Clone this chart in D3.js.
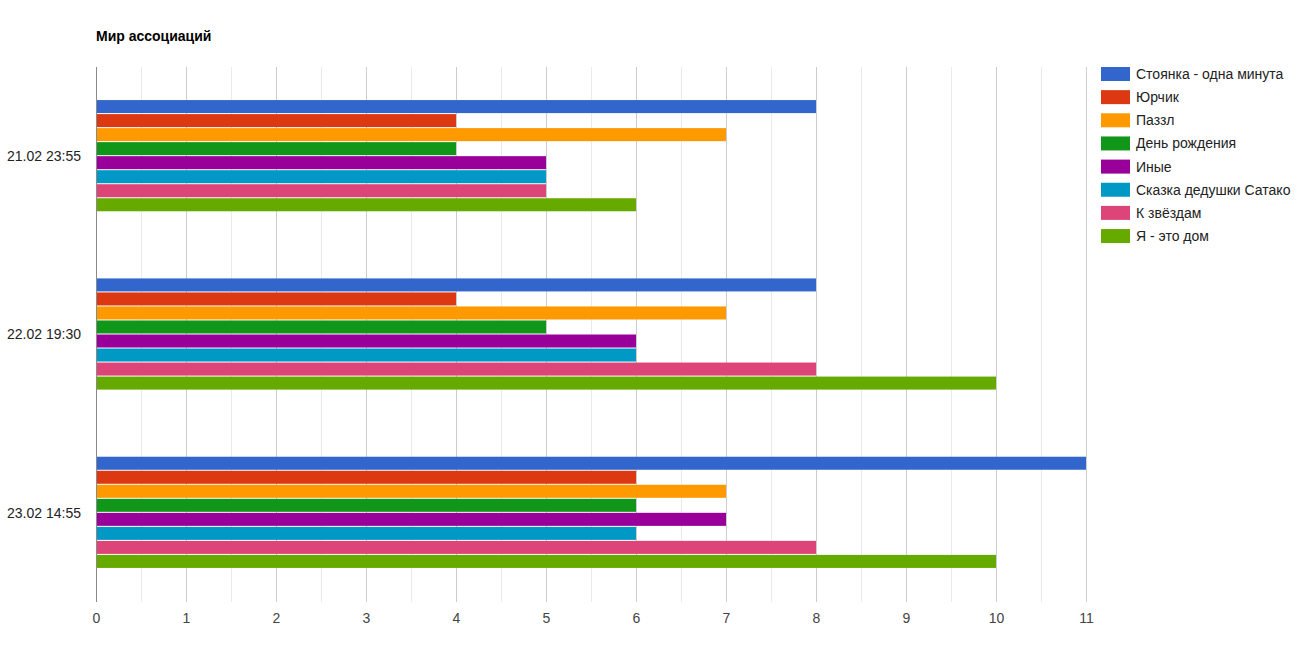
<!DOCTYPE html>
<html>
<head>
<meta charset="utf-8">
<script src="https://cdn.jsdelivr.net/npm/d3@7"></script>
<style>
  body { margin: 0; background: #fff; }
  text { font-family: "Liberation Sans", Arial, sans-serif; }
</style>
</head>
<body>
<div class="canvas"></div>
<script>
const categories = ["21.02 23:55", "22.02 19:30", "23.02 14:55"];
const seriesNames = [
  "Стоянка - одна минута",
  "Юрчик",
  "Паззл",
  "День рождения",
  "Иные",
  "Сказка дедушки Сатако",
  "К звёздам",
  "Я - это дом"
];
// one row per category, one value per series
const values = [
  [8, 4, 7, 4, 5, 5, 5, 6],
  [8, 4, 7, 5, 6, 6, 8, 10],
  [11, 6, 7, 6, 7, 6, 8, 10]
];
const xTicks = [0, 1, 2, 3, 4, 5, 6, 7, 8, 9, 10, 11];
const colors = ["#3366cc", "#dc3912", "#ff9900", "#109618", "#990099", "#0099c6", "#dd4477", "#66aa00"];

const width = 1305;
const height = 647;

const svg = d3
  .select(".canvas")
  .append("svg")
  .attr("width", width)
  .attr("height", height);

const plotLeft = 96;
const plotRight = 1086;
const plotTop = 67;
const plotBottom = 602;

const xScale = d3.scaleLinear().domain([0, 11]).range([plotLeft, plotRight]);

const yGroup = d3
  .scaleBand()
  .domain(categories)
  .range([plotTop, plotBottom])
  .paddingInner(0.3708)
  .paddingOuter(0.1854);

const ySeries = d3
  .scaleBand()
  .domain(seriesNames)
  .range([0, yGroup.bandwidth()]);

// title
svg
  .append("text")
  .text("Мир ассоциаций")
  .attr("x", 96)
  .attr("y", 41)
  .attr("font-size", 14)
  .attr("font-weight", "bold")
  .attr("fill", "#000");

// minor gridlines (half steps)
const minor = xTicks.slice(0, -1).map((t) => t + 0.5);
svg
  .append("g")
  .selectAll("line")
  .data(minor)
  .join("line")
  .attr("x1", (d) => Math.round(xScale(d)) + 0.5)
  .attr("x2", (d) => Math.round(xScale(d)) + 0.5)
  .attr("y1", plotTop)
  .attr("y2", plotBottom)
  .attr("stroke", "#ebebeb")
  .attr("stroke-width", 1);

// major gridlines
svg
  .append("g")
  .selectAll("line")
  .data(xTicks.slice(1))
  .join("line")
  .attr("x1", (d) => Math.round(xScale(d)) + 0.5)
  .attr("x2", (d) => Math.round(xScale(d)) + 0.5)
  .attr("y1", plotTop)
  .attr("y2", plotBottom)
  .attr("stroke", "#cccccc")
  .attr("stroke-width", 1);

// bars
const groups = svg
  .append("g")
  .selectAll("g")
  .data(values)
  .join("g")
  .attr("transform", (d, i) => `translate(0,${yGroup(categories[i])})`);

groups
  .selectAll("rect")
  .data((d) => d.map((v, j) => ({ v: v, name: seriesNames[j], c: colors[j] })))
  .join("rect")
  .attr("x", xScale(0))
  .attr("y", (d) => ySeries(d.name))
  .attr("width", (d) => xScale(d.v) - xScale(0))
  .attr("height", ySeries.bandwidth() - 1)
  .attr("fill", (d) => d.c);

// baseline at zero
svg
  .append("line")
  .attr("x1", Math.round(xScale(0)) + 0.5)
  .attr("x2", Math.round(xScale(0)) + 0.5)
  .attr("y1", plotTop)
  .attr("y2", plotBottom)
  .attr("stroke", "#8a8a8a")
  .attr("stroke-width", 1);

// x axis labels
const xAxis = d3.axisBottom(xScale).tickValues(xTicks).tickSize(0).tickPadding(0).tickFormat(d3.format("d"));
const gx = svg.append("g").attr("transform", `translate(0,${plotBottom + 21})`).call(xAxis);
gx.select(".domain").remove();
gx.selectAll("text")
  .attr("font-size", 14)
  .attr("font-family", '"Liberation Sans", Arial, sans-serif')
  .attr("fill", "#444444")
  .attr("dy", 0);

// category labels
const yAxis = d3
  .axisLeft(d3.scalePoint().domain(categories).range([yGroup(categories[0]) + yGroup.bandwidth() / 2, yGroup(categories[2]) + yGroup.bandwidth() / 2]))
  .tickSize(0)
  .tickPadding(15);
const gy = svg.append("g").attr("transform", `translate(${plotLeft},0)`).call(yAxis);
gy.select(".domain").remove();
gy.selectAll("text")
  .attr("font-size", 14)
  .attr("font-family", '"Liberation Sans", Arial, sans-serif')
  .attr("fill", "#222222");

// legend
const legend = svg
  .append("g")
  .selectAll("g")
  .data(seriesNames)
  .join("g")
  .attr("transform", (d, i) => `translate(1101,${67 + i * 23.15})`);

legend
  .append("rect")
  .attr("x", 0)
  .attr("y", 0)
  .attr("width", 29)
  .attr("height", 14)
  .attr("fill", (d, i) => colors[i]);

legend
  .append("text")
  .text((d) => d)
  .attr("x", 35)
  .attr("y", 12)
  .attr("font-size", 14)
  .attr("fill", "#222222");
</script>
</body>
</html>
